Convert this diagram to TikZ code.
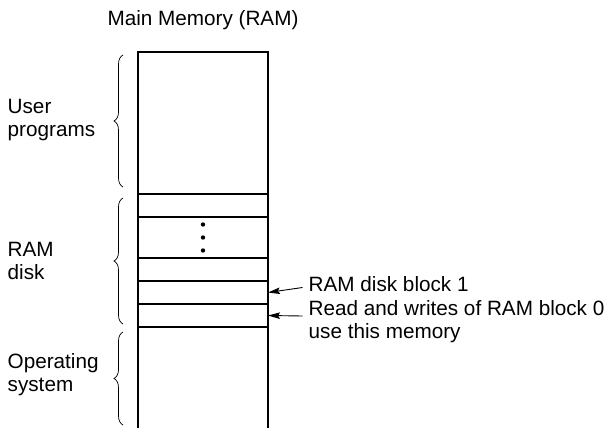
\documentclass[tikz,border=0pt]{standalone}
\usepackage{fontspec}
\setmainfont{Liberation Sans}
\usepackage{tikz}
\usetikzlibrary{arrows.meta, decorations.pathreplacing}

\begin{document}
\begin{tikzpicture}[
    x=1pt, y=-1pt,
    cell/.style={draw, line width=1.4pt, minimum width=130pt, inner sep=0pt, outer sep=0pt},
    label/.style={inner sep=0pt, anchor=north west, align=left, font=\fontsize{20.7}{23}\selectfont},
    grp/.style={decorate, decoration={brace, amplitude=9pt}, line width=0.7pt},
    ptr/.style={-{Stealth[length=12pt, width=6.5pt, inset=2pt]}, line width=0.9pt}
]
    \useasboundingbox (0,0) rectangle (615,428);

    \node[inner sep=0pt, anchor=base, font=\fontsize{20.7}{23}\selectfont] (title) at (203,26) {Main Memory (RAM)};

    \node[cell, minimum height=142pt] (user) at (203,123)   {};
    \node[cell, minimum height=23pt]  (rd1)  at (203,205.5) {};
    \node[cell, minimum height=41pt]  (rd2)  at (203,237.5) {};
    \node[cell, minimum height=23pt]  (rd3)  at (203,269.5) {};
    \node[cell, minimum height=23pt]  (blk1) at (203,292.5) {};
    \node[cell, minimum height=23pt]  (blk0) at (203,315.5) {};
    \node[cell, draw=none, minimum height=101pt] (os) at (203,377.5) {};
    \draw[line width=1.4pt] (os.south west) -- (os.north west) (os.north east) -- (os.south east);

    \foreach \dy in {-13,0,13}
        \fill ([yshift=\dy pt]rd2.center) circle (2.2pt);

    \node[label] (userlbl) at (7.5,99)   {User\\programs};
    \node[label] (disklbl) at (7.5,242)  {RAM\\disk};
    \node[label] (oslbl)   at (7.5,353)  {Operating\\system};

    \draw[grp] ([xshift=-15pt, yshift=7pt]user.south west) -- ([xshift=-15pt, yshift=-3pt]user.north west);
    \draw[grp] ([xshift=-15pt, yshift=3pt]blk0.south west) -- ([xshift=-15pt, yshift=-4pt]rd1.north west);
    \draw[grp] ([xshift=-15pt, yshift=3pt]os.south west) -- ([xshift=-15pt, yshift=-5pt]os.north west);

    \node[label] (blk1lbl) at (308.5,276.5) {RAM disk block 1};
    \node[label] (blk0lbl) at (308.5,300)   {Read and writes of RAM block 0\\use this memory};

    \draw[ptr] ([xshift=-6pt, yshift=-11pt]blk1lbl.north west) -- (blk1.east);
    \draw[ptr] ([xshift=-6pt, yshift=-16pt]blk0lbl.north west) -- (blk0.east);
\end{tikzpicture}
\end{document}
